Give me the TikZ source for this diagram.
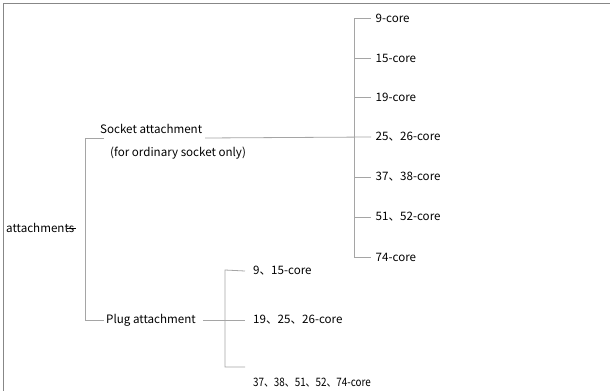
\documentclass[tikz,border=0pt]{standalone}
\usepackage{fontspec}
\setmainfont{Noto Sans CJK SC}
\usetikzlibrary{positioning}
\definecolor{branchgray}{RGB}{165,165,165}
\definecolor{framegray}{RGB}{135,135,135}

\begin{document}
\begin{tikzpicture}[x=1pt,y=-1pt]
  \tikzstyle{lbl}=[anchor=west,inner ysep=0pt,inner xsep=0pt,text=black,
    font=\fontsize{11.6}{13}\selectfont]
  \tikzstyle{leaf}=[lbl,inner xsep=4.5pt]
  \tikzstyle{branch}=[draw=branchgray,line width=0.8pt]

  \useasboundingbox (0,0) rectangle (610,391);

  % -- Frame --
  \draw[framegray,line width=1.6pt] (610,3.5) -- (3.5,3.5) -- (3.5,391);

  % -- Root --
  \node[lbl] (root) at (6,228) {attachments};
  \coordinate (rootdash) at (76,228);
  \coordinate (bartop) at (85,138);
  \coordinate (barbot) at (85,320);

  % -- Socket attachment --
  \node[lbl] (sock) at (100,129) {Socket attachment};
  \node[lbl] (socknote) at (110,153) {(for ordinary socket only)};
  \coordinate (sockL) at (104,138);
  \coordinate (sockR) at (205,138);
  \coordinate (rtop) at (354,18);
  \coordinate (rbot) at (354,257);

  % -- Socket cores --
  \node[leaf] (c9) at (371,18) {9-core};
  \node[leaf] (c15) at (371,58) {15-core};
  \node[leaf] (c19) at (371,97) {19-core};
  \node[leaf] (c25) at (371,137) {25、26-core};
  \node[leaf] (c37) at (371,177) {37、38-core};
  \node[leaf] (c51) at (371,217) {51、52-core};
  \node[leaf] (c74) at (371,257) {74-core};

  % -- Plug attachment --
  \node[lbl,inner xsep=2pt] (plug) at (104,320) {Plug attachment};
  \coordinate (ptop) at (225,270);
  \coordinate (pbot) at (225,367);
  \coordinate (pend) at (245,367);

  % -- Plug cores --
  \node[lbl,inner xsep=8pt] (p9) at (245,271) {9、15-core};
  \node[lbl,inner xsep=8pt] (p19) at (245,320) {19、25、26-core};
  \node[lbl,xscale=0.85,transform shape] (p37) at (253,383) {37、38、51、52、74-core};

  % -- Flows --
  \draw[line width=0.6pt] (root.east) ++(-7,0) -- (rootdash);
  \draw[branch] (sockL) -- (bartop) -- (barbot) -- (plug.west);
  \draw[branch] (sockR) -- (c25.west);
  \draw[branch] (c9.west) -- (rtop) -- (rbot) -- (c74.west);
  \draw[branch] (c15.west) -- (c15.west -| rtop);
  \draw[branch] (c19.west) -- (c19.west -| rtop);
  \draw[branch] (c37.west) -- (c37.west -| rtop);
  \draw[branch] (c51.west) -- (c51.west -| rtop);
  \draw[branch,shorten <=5pt] (plug.east) -- (p19.west);
  \draw[branch] (p9.west) -- (ptop) -- (pbot) -- (pend);
\end{tikzpicture}
\end{document}
